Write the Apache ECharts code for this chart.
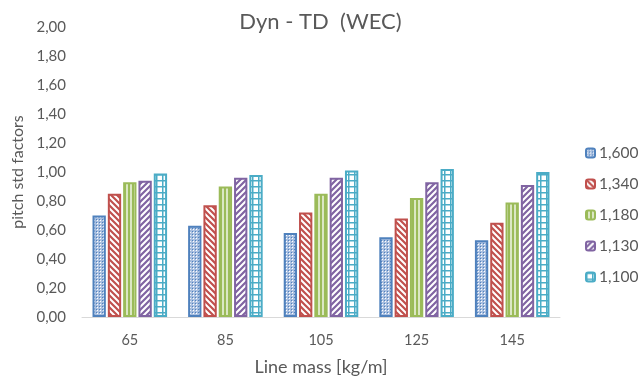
<!DOCTYPE html>
<html><head><meta charset="utf-8">
<script src="https://cdn.jsdelivr.net/npm/echarts@6/dist/echarts.min.js"></script>
<style>html,body{margin:0;padding:0;background:#fff}#c{width:641px;height:382px}</style>
</head><body><div id="c"></div>
<script>
const categories = ['65', '85', '105', '125', '145'];
const seriesNames = ['1,600', '1,340', '1,180', '1,130', '1,100'];
const s1600 = [0.70, 0.63, 0.58, 0.55, 0.53];
const s1340 = [0.85, 0.77, 0.72, 0.68, 0.65];
const s1180 = [0.93, 0.90, 0.85, 0.82, 0.79];
const s1130 = [0.94, 0.96, 0.96, 0.93, 0.91];
const s1100 = [0.99, 0.98, 1.01, 1.02, 1.00];
const yTicks = [0, 0.2, 0.4, 0.6, 0.8, 1.0, 1.2, 1.4, 1.6, 1.8, 2.0];

const colors = ['#4F81BD', '#C0504D', '#9BBB59', '#8064A2', '#4BACC6'];
function tile(w, h, draw) {
  const c = document.createElement('canvas'); c.width = w; c.height = h;
  const g = c.getContext('2d'); g.fillStyle = '#fff'; g.fillRect(0, 0, w, h); draw(g); return c;
}
const patterns = [
  tile(3, 3, g => { g.fillStyle = '#a9bfe0'; g.fillRect(0,0,3,3); g.fillStyle = '#ffffff'; g.fillRect(1,1,1,1); g.fillStyle='#4F81BD'; g.fillRect(0,0,1,1); }),
  tile(6, 6, g => { g.strokeStyle = '#C0504D'; g.lineWidth = 2.2; g.beginPath();
    for (let k = -6; k <= 12; k += 6) { g.moveTo(k - 1, -1); g.lineTo(k + 7, 7); } g.stroke(); }),
  tile(4, 4, g => { g.fillStyle = '#9BBB59'; g.fillRect(0, 0, 2, 4); g.fillStyle = '#dbe7c4'; g.fillRect(2,0,2,4); }),
  tile(6, 6, g => { g.strokeStyle = '#8064A2'; g.lineWidth = 2.2; g.beginPath();
    for (let k = -6; k <= 12; k += 6) { g.moveTo(k - 1, 7); g.lineTo(k + 7, -1); } g.stroke(); }),
  tile(6, 6, g => { g.fillStyle = '#4BACC6'; g.fillRect(0, 0, 6, 1.5); g.fillRect(0, 0, 1.5, 6); })
];
const values = [s1600, s1340, s1180, s1130, s1100];
const fmt = v => v.toFixed(2).replace('.', ',');
const font = 'Lato, "Open Sans", sans-serif';

const chart = echarts.init(document.getElementById('c'), null, {renderer: 'canvas'});
chart.setOption({
  animation: false,
  backgroundColor: '#fff',
  title: { text: 'Dyn - TD  (WEC)', left: 'center', top: 6,
    textStyle: { fontFamily: font, fontSize: 22, fontWeight: 'normal', color: '#595959' } },
  grid: { left: 82, right: 81, top: 27, bottom: 65, containLabel: false, outerBoundsMode: 'none' },
  legend: { orient: 'vertical', left: 580, top: 140, itemWidth: 9, itemHeight: 9, itemGap: 15,
    data: seriesNames,
    textStyle: { fontFamily: font, fontSize: 15.5, color: '#595959', padding: [0,0,0,-1] } },
  xAxis: { type: 'category', data: categories,
    name: 'Line mass [kg/m]', nameLocation: 'middle', nameGap: 41,
    nameTextStyle: { fontFamily: font, fontSize: 18, color: '#595959' },
    axisLine: { lineStyle: { color: '#d9d9d9', width: 1 } }, axisTick: { show: false },
    axisLabel: { fontFamily: font, fontSize: 14.5, color: '#595959', margin: 16 } },
  yAxis: { type: 'value', min: 0, max: 2, interval: 0.2,
    name: 'pitch std factors', nameLocation: 'middle', nameGap: 53,
    nameTextStyle: { fontFamily: font, fontSize: 16, color: '#595959' },
    axisLine: { show: false }, axisTick: { show: false }, splitLine: { show: false },
    axisLabel: { fontFamily: font, fontSize: 15, color: '#595959', margin: 16,
      formatter: v => fmt(v) } },
  series: seriesNames.map((n, i) => ({
    name: n, type: 'bar', data: values[i],
    barGap: '15%', barCategoryGap: '22%',
    itemStyle: { color: { image: patterns[i], repeat: 'repeat' }, borderColor: colors[i], borderWidth: 2 }
  }))
});
</script></body></html>
